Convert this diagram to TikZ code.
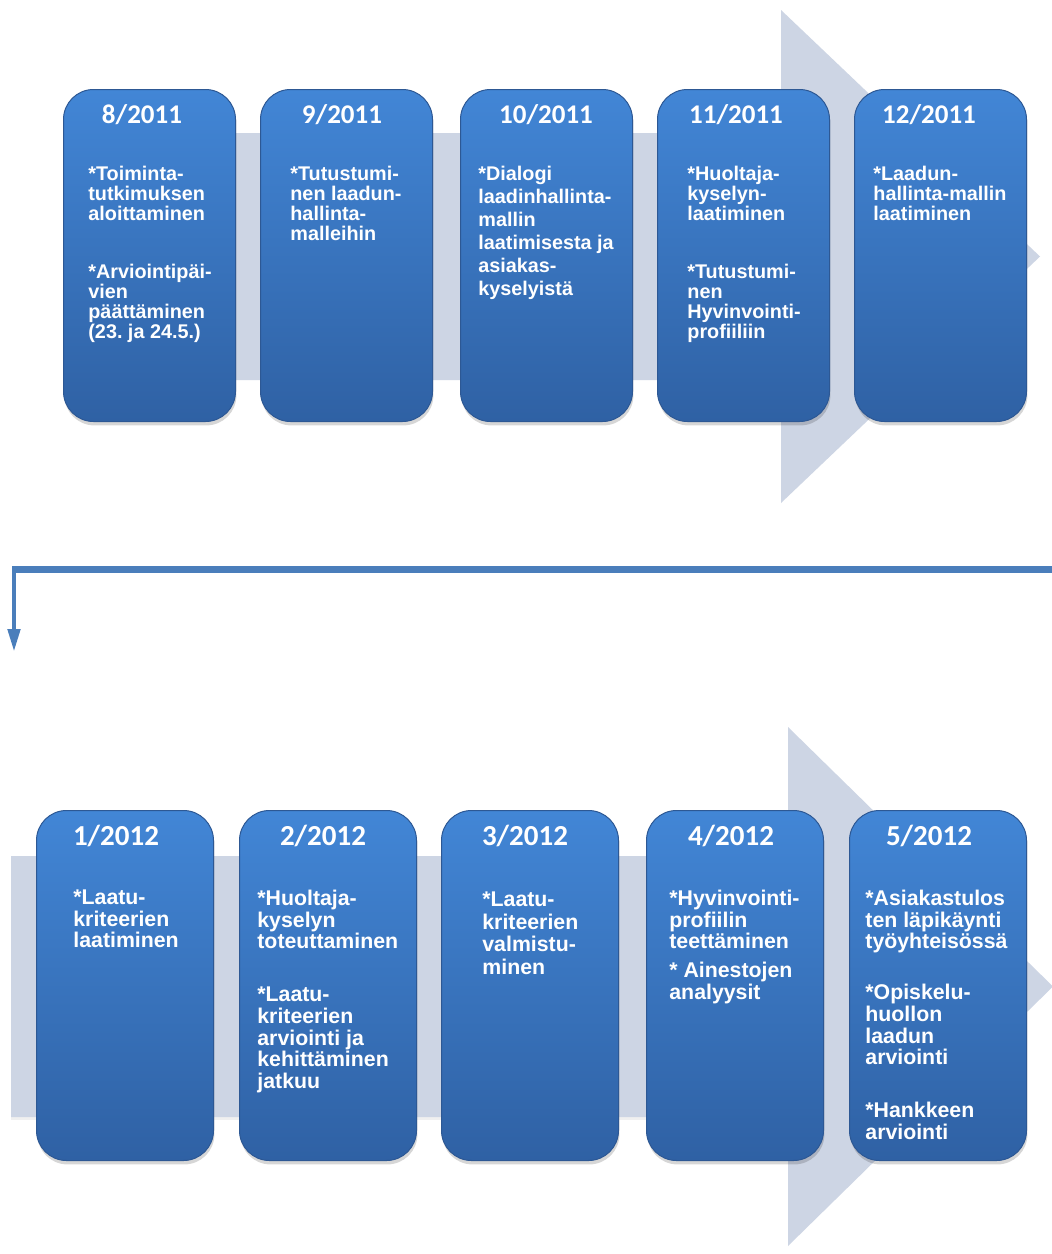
\documentclass[tikz,border=0pt]{standalone}
\usepackage{fontspec}
\setmainfont{Liberation Sans}
\newfontfamily\hdrfont{Carlito}
\usetikzlibrary{arrows.meta}
\definecolor{band}{RGB}{205,213,228}
\definecolor{boxtop}{RGB}{66,134,214}
\definecolor{boxbot}{RGB}{47,97,164}
\definecolor{boxline}{RGB}{45,88,148}
\definecolor{conn}{RGB}{74,126,187}
\frenchspacing
\begin{document}
\begin{tikzpicture}[x=0.5pt,y=-0.5pt,
  bandshape/.style={fill=band},
  card/.style={rectangle, rounded corners=15pt, draw=boxline, line width=0.5pt,
    top color=boxtop, bottom color=boxbot, anchor=north west, inner sep=0pt},
  cardshadow/.style={rectangle, rounded corners=15pt, fill=black, fill opacity=0.16,
    anchor=north west, inner sep=0pt},
  toprow/.style={minimum width=86pt, minimum height=166pt},
  botrow/.style={minimum width=88.5pt, minimum height=175pt},
  hdrtop/.style={anchor=base, text=white, inner sep=0pt, font=\hdrfont\bfseries\fontsize{13.5}{14}\selectfont},
  hdrbot/.style={anchor=base, text=white, inner sep=0pt, font=\hdrfont\bfseries\fontsize{14.5}{15}\selectfont},
  bodytop/.style={anchor=north west, align=left, inner sep=0pt, text=white, font=\bfseries\fontsize{9.9}{10}\selectfont},
  bodybot/.style={anchor=north west, align=left, inner sep=0pt, text=white, font=\bfseries\fontsize{10.65}{10.85}\selectfont},
  connline/.style={draw=conn}
]
\useasboundingbox[fill=white] (0,0) rectangle (1052,1254);

% background arrows
\fill[bandshape] (80,133) -- (781,133) -- (781,10) -- (1040,256.5) -- (781,503) -- (781,380) -- (80,380) -- cycle;
\fill[black, opacity=0.06] (11,1117) rectangle (788,1120);
\fill[bandshape] (11,856) -- (788,856) -- (788,727) -- (1053,986.5) -- (788,1246) -- (788,1117) -- (11,1117) -- cycle;

% top row cards
\foreach \i/\x in {1/63,2/260,3/460,4/657,5/854}{
  \node[cardshadow, toprow] (st\i) at (\x+1,93) {};
  \node[card, toprow] (bt\i) at (\x,89) {};
}
% bottom row cards
\foreach \i/\x in {1/36,2/239,3/441,4/646,5/849}{
  \node[cardshadow, botrow] (sb\i) at (\x+1,814) {};
  \node[card, botrow] (bb\i) at (\x,810) {};
}

% top headers
\node[hdrtop] (h1) at (142,123) {8/2011};
\node[hdrtop] (h2) at (342,123) {9/2011};
\node[hdrtop] (h3) at (546,123) {10/2011};
\node[hdrtop] (h4) at (736,123) {11/2011};
\node[hdrtop] (h5) at (929,123) {12/2011};

% bottom headers
\node[hdrbot] (h6) at (116,845) {1/2012};
\node[hdrbot] (h7) at (323,845) {2/2012};
\node[hdrbot] (h8) at (525,845) {3/2012};
\node[hdrbot] (h9) at (731,845) {4/2012};
\node[hdrbot] (h10) at (929,845) {5/2012};

% top texts
\node[bodytop] (t1) at (88,165.5) {*Toiminta-\\tutkimuksen\\aloittaminen\\[19pt]*Arviointipäi-\\vien\\päättäminen\\(23. ja 24.5.)};
\node[bodytop] (t2) at (290,165.5) {*Tutustumi-\\nen laadun-\\hallinta-\\malleihin};
\node[bodytop, font=\bfseries\fontsize{9.9}{11.5}\selectfont] (t3) at (478,165.5) {*Dialogi\\laadinhallinta-\\mallin\\laatimisesta ja\\asiakas-\\kyselyistä};
\node[bodytop] (t4) at (687,165.5) {*Huoltaja-\\kyselyn-\\laatiminen\\[19pt]*Tutustumi-\\nen\\Hyvinvointi-\\profiiliin};
\node[bodytop] (t5) at (873,165.5) {*Laadun-\\hallinta-mallin\\laatiminen};

% bottom texts
\node[bodybot] (t6) at (73,889.5) {*Laatu-\\kriteerien\\laatiminen};
\node[bodybot] (t7) at (257,889.5) {*Huoltaja-\\kyselyn\\toteuttaminen\\[15.6pt]*Laatu-\\kriteerien\\arviointi ja\\kehittäminen\\jatkuu};
\node[bodybot, font=\bfseries\fontsize{10.65}{11.3}\selectfont] (t8) at (482,891.5) {*Laatu-\\kriteerien\\valmistu-\\minen};
\node[bodybot] (t9) at (669,889.5) {*Hyvinvointi-\\profiilin\\teettäminen\\[3.6pt]* Ainestojen\\analyysit};
\node[bodybot] (t10) at (865,889.5) {*Asiakastulos\\ten läpikäynti\\työyhteisössä\\[14.6pt]*Opiskelu-\\huollon\\laadun\\arviointi\\[15.6pt]*Hankkeen\\arviointi};

% connector
\coordinate (cstart) at (1052,569);
\coordinate (ccorner) at (12,569);
\coordinate (cbend) at (14,566);
\coordinate (cend) at (14,652);
\draw[connline, line width=3.5pt] (cstart) -- (ccorner);
\draw[connline, line width=2.3pt, -{Triangle[width=6pt,length=11.5pt]}] (cbend) -- (cend);
\end{tikzpicture}
\end{document}
